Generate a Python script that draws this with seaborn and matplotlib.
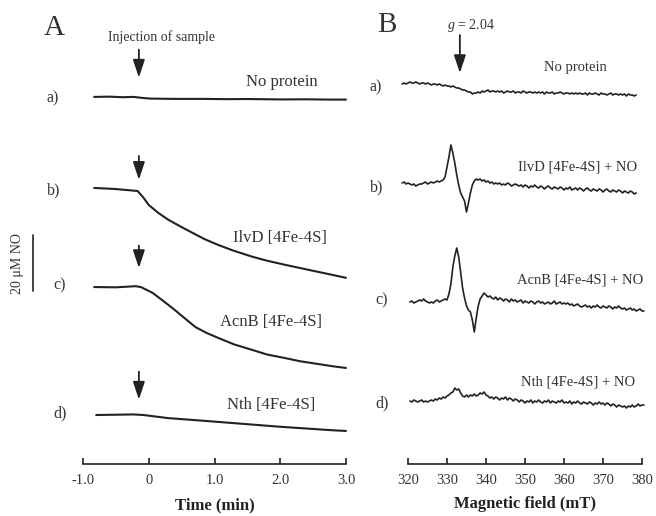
import numpy as np
import pandas as pd
import seaborn as sns
import matplotlib.pyplot as plt

# ---- panel A : NO electrode traces (change in NO, uM) ----
time_noprot = [-0.83, -0.6, -0.4, -0.23, -0.08, 0.03, 0.4, 0.79, 1.2, 1.5, 2.0, 2.4, 2.73, 3.0]
no_noprot = [0, 0.1, -0.1, 0, -0.4, -0.6, -0.7, -0.7, -0.8, -0.75, -0.9, -0.85, -0.95, -0.95]

time_ilvd = [-0.83, -0.5, -0.17, -0.08, 0.0, 0.15, 0.3, 0.5, 0.67, 0.85, 1.06, 1.3, 1.58, 1.8, 2.08, 2.3, 2.58, 2.8, 3.0]
no_ilvd = [0, -0.4, -1.1, -3.5, -6.1, -9.0, -11.4, -14.0, -16.1, -18.3, -20.4, -22.5, -24.6, -26.0, -27.5, -28.6, -30.0, -31.1, -32.1]

time_acnb = [-0.83, -0.5, -0.2, -0.12, 0.06, 0.2, 0.36, 0.55, 0.71, 0.88, 1.06, 1.3, 1.58, 1.8, 2.08, 2.3, 2.58, 2.8, 3.0]
no_acnb = [0, -0.1, 0.3, 0, -2.1, -4.6, -7.5, -11.2, -14.3, -16.4, -18.2, -20.5, -22.5, -24.1, -25.4, -26.5, -27.5, -28.3, -28.9]

time_nth = [-0.8, -0.5, -0.23, -0.08, 0.29, 0.8, 1.29, 2.0, 2.76, 3.0]
no_nth = [0, 0.1, 0.2, 0, -1.1, -2.0, -2.9, -4.2, -5.4, -5.7]

time_ticks = [-1.0, 0, 1.0, 2.0, 3.0]
time_ticklabels = ['-1.0', '0', '1.0', '2.0', '3.0']
labels_A = ['No protein', 'IlvD [4Fe-4S]', 'AcnB [4Fe-4S]', 'Nth [4Fe-4S]']
letters = ['a)', 'b)', 'c)', 'd)']
injection_time = -0.15
scale_um = 20

# ---- panel B : EPR spectra (arbitrary units) ----
field_ab = np.arange(318.5, 378.75, 0.5)
field_cd = np.arange(320.5, 380.75, 0.5)

epr_noprot = [0, 1, 0, 1, 2, 1, 1, 2, 1, 0,
              1, 1, 0, 1, 0, -1, 0, 0, -1, 0,
              -1, -2, -1, -2, -2, -3, -2, -3, -4, -4,
              -5, -6, -6, -7, -8, -8, -10, -9, -9, -8,
              -9, -7, -8, -7, -6, -8, -7, -7, -8, -7,
              -8, -7, -9, -8, -7, -8, -8, -7, -9, -8,
              -8, -9, -7, -8, -9, -8, -8, -9, -8, -9,
              -8, -9, -8, -10, -8, -9, -9, -8, -10, -9,
              -9, -8, -9, -10, -9, -9, -10, -9, -10, -9,
              -10, -9, -10, -10, -9, -11, -9, -10, -10, -9,
              -10, -11, -9, -10, -10, -11, -10, -9, -11, -10,
              -10, -11, -10, -11, -10, -12, -10, -11, -11, -12,
              -11]

epr_ilvd = [0, 1, -1, 0, -1, -2, -1, -3, -2, -1,
            -1, 0, 1, -1, 0, 1, 0, 1, 2, 1,
            2, 3, 6, 16, 26, 38, 30, 20, 8, -2,
            -10, -14, -18, -29, -20, -10, -2, 2, 4, 3,
            4, 2, 3, 1, 2, 0, 1, -1, 0, -1,
            0, -2, -1, -2, 0, -1, -3, -2, -1, -2,
            -3, -2, -4, -2, -3, -5, -3, -4, -2, -4,
            -5, -3, -4, -6, -4, -3, -5, -6, -4, -5,
            -6, -4, -5, -7, -5, -6, -4, -7, -6, -5,
            -7, -5, -6, -8, -6, -5, -7, -8, -6, -7,
            -8, -6, -7, -9, -7, -6, -8, -9, -7, -8,
            -9, -7, -8, -10, -8, -9, -10, -8, -9, -11,
            -10]

epr_acnb = [0, 1, -1, 0, 1, 2, 1, 3, 1, 0,
            -1, 0, -1, 1, 2, 0, 1, 2, 3, 2,
            8, 18, 35, 46, 54, 45, 30, 14, 4, -4,
            -8, -10, -18, -30, -16, -4, 3, 6, 9, 7,
            5, 6, 4, 3, 5, 2, 4, 3, 1, 3,
            2, 0, 3, 1, 2, 0, 1, 2, -1, 1,
            0, -1, 1, 0, -2, 0, 1, -1, 0, -2,
            -1, 0, -2, -1, 1, -2, -1, 0, -2, -1,
            -2, -1, -3, -2, -4, -3, -2, -4, -5, -4,
            -3, -5, -4, -6, -4, -5, -3, -5, -6, -4,
            -5, -6, -4, -5, -7, -5, -6, -4, -6, -7,
            -6, -8, -7, -6, -8, -7, -9, -8, -7, -9,
            -9]

epr_nth = [0, -1, 1, 0, -1, 0, 1, -1, 0, -1,
           0, 1, 0, 2, 1, 3, 2, 4, 3, 5,
           6, 8, 9, 13, 11, 12, 8, 5, 4, 6,
           4, 6, 5, 7, 5, 6, 8, 7, 9, 6,
           5, 3, 4, 2, 4, 3, 1, 3, 2, 4,
           1, 3, 2, 0, 2, 1, -1, 1, 0, -2,
           0, -1, 1, -2, 0, -1, 1, -1, -2, 0,
           -1, 1, -2, 0, -1, -2, 0, -1, 1, -2,
           -1, -2, 0, -3, -1, -2, 0, -2, -3, -1,
           -2, -3, -1, -2, -4, -2, -3, -1, -3, -2,
           -4, -2, -3, -5, -3, -4, -6, -4, -5, -6,
           -5, -7, -5, -6, -4, -6, -5, -3, -5, -4,
           -4]

field_ticks = [320, 330, 340, 350, 360, 370, 380]
labels_B = ['No protein', 'IlvD [4Fe-4S] + NO', 'AcnB [4Fe-4S] + NO', 'Nth [4Fe-4S] + NO']
g_field = 333.3

sns.set_theme(style='white')
plt.rcParams['font.family'] = ['Liberation Serif', 'DejaVu Serif']
plt.rcParams['axes.unicode_minus'] = False
plt.rcParams['mathtext.fontset'] = 'custom'
plt.rcParams['mathtext.it'] = 'Liberation Serif:italic'
plt.rcParams['mathtext.rm'] = 'Liberation Serif'

W, H = 656, 516
fig = plt.figure(figsize=(W / 100, H / 100), dpi=100)
ink = '#222222'
txt = '#333333'


def px_axes(x0, x1, y_top, y_bot):
    return fig.add_axes([x0 / W, 1 - y_bot / H, (x1 - x0) / W, (y_bot - y_top) / H])


def ftext(x, y, s, **kw):
    fig.text(x / W, 1 - y / H, s, va='center', color=txt, **kw)


axA = px_axes(83, 346, 0, 464)
axB = px_axes(408, 642, 0, 464)

px_per_um = 2.8
axA.set_xlim(-1.0, 3.0)
axA.set_ylim(0, 464 / px_per_um)
axB.set_xlim(320, 380)
axB.set_ylim(0, 464)

# trace baselines (A in uM, B in arbitrary units)
base_A = [131.1, 98.6, 63.2, 17.5]
base_B = [380, 281, 162, 63]

A_sets = [(time_noprot, no_noprot), (time_ilvd, no_ilvd), (time_acnb, no_acnb), (time_nth, no_nth)]
for (t, v), b in zip(A_sets, base_A):
    df = pd.DataFrame({'t': t, 'no': np.array(v) + b})
    sns.lineplot(data=df, x='t', y='no', ax=axA, color=ink, lw=1.5,
                 estimator=None, sort=False, clip_on=False)

B_sets = [(field_ab, epr_noprot), (field_ab, epr_ilvd), (field_cd, epr_acnb), (field_cd, epr_nth)]
for (f, v), b in zip(B_sets, base_B):
    df = pd.DataFrame({'field': f, 'sig': np.array(v) + b})
    sns.lineplot(data=df, x='field', y='sig', ax=axB, color=ink, lw=1.2,
                 estimator=None, sort=False, clip_on=False)

for ax, ticks in [(axA, time_ticks), (axB, field_ticks)]:
    for s in ['top', 'left', 'right']:
        ax.spines[s].set_visible(False)
    ax.spines['bottom'].set_color(ink)
    ax.spines['bottom'].set_linewidth(1.2)
    ax.set_xticks(ticks)
    ax.set_yticks([])
    ax.tick_params(axis='x', direction='in', length=4, width=1.2, color=ink,
                   labelsize=10.5, labelcolor=txt, pad=7, bottom=True)
    ax.set_ylabel('')
    ax.patch.set_alpha(0)

axA.set_xticklabels(time_ticklabels)
axA.set_xlabel('Time (min)', fontsize=12, fontweight='bold', color=ink, labelpad=8)
axB.set_xlabel('Magnetic field (mT)', fontsize=12, fontweight='bold', color=ink, labelpad=7)

# injection arrows
arrow_A = [(148, 138), (110, 101.5), (78, 70), (33, 23)]
for y0, y1 in arrow_A:
    axA.annotate('', xy=(injection_time, y1), xytext=(injection_time, y0),
                 arrowprops=dict(arrowstyle='-|>,head_length=0.9,head_width=0.3',
                                 color=ink, lw=1.3, shrinkA=0, shrinkB=0))
axB.annotate('', xy=(g_field, 464 - 73), xytext=(g_field, 464 - 35),
             arrowprops=dict(arrowstyle='-|>,head_length=0.9,head_width=0.3',
                             color=ink, lw=1.3, shrinkA=0, shrinkB=0))

# scale bar
axA.plot([-1.76, -1.76], [61.8, 61.8 + scale_um], color=ink, lw=1.2, clip_on=False)
ftext(18, 263, '20 μM NO', rotation=90, ha='center', fontsize=10)

# texts
ftext(54, 28, 'A', ha='center', fontsize=21)
ftext(387, 25, 'B', ha='center', fontsize=21)
ftext(162, 37, 'Injection of sample', ha='center', fontsize=10)
ftext(471, 25, r'$\it{g}$ = 2.04', ha='center', fontsize=10)

for (x, y), s in zip([(47, 98), (47, 190), (53, 285), (53, 413)], letters):
    ftext(x, y, s, ha='left', fontsize=11.5)
for (x, y), s in zip([(370, 87), (370, 187), (375, 300), (375, 403)], letters):
    ftext(x, y, s, ha='left', fontsize=11.5)

for (x, y), s in zip([(318, 82), (327, 238), (322, 322), (315, 405)], labels_A):
    ftext(x, y, s, ha='right', fontsize=12)
for (x, y), s in zip([(607, 67), (637, 167), (643, 280), (635, 382)], labels_B):
    ftext(x, y, s, ha='right', fontsize=10.5)

fig.savefig('out.png', dpi=100)
